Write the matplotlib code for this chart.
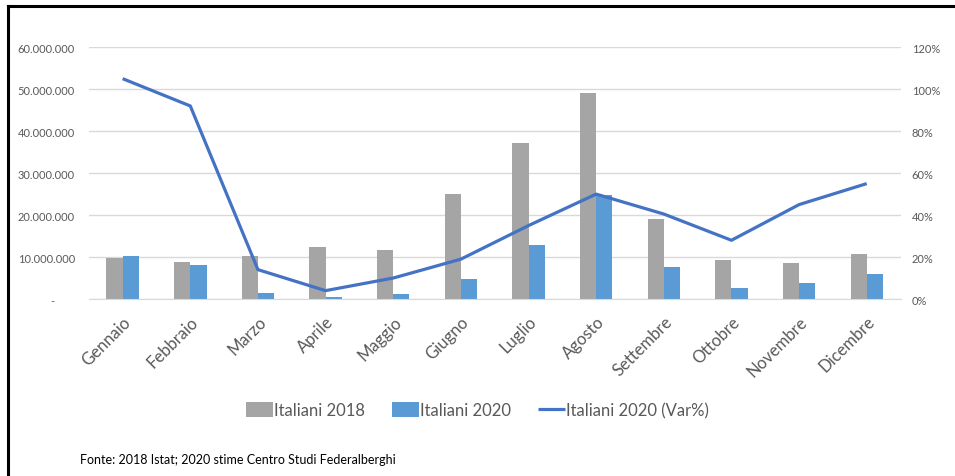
import matplotlib.pyplot as plt
import matplotlib.ticker as mticker
import numpy as np

mesi = ["Gennaio", "Febbraio", "Marzo", "Aprile", "Maggio", "Giugno",
        "Luglio", "Agosto", "Settembre", "Ottobre", "Novembre", "Dicembre"]
italiani_2018 = [9.8e6, 8.8e6, 10.2e6, 12.5e6, 11.7e6, 25.0e6,
                 37.1e6, 49.2e6, 19.0e6, 9.3e6, 8.5e6, 10.7e6]
italiani_2020 = [10.2e6, 8.1e6, 1.4e6, 0.4e6, 1.1e6, 4.8e6,
                 12.9e6, 24.8e6, 7.6e6, 2.6e6, 3.8e6, 6.0e6]
var_2020 = [105, 92, 14, 4, 10, 19, 35, 50, 40.5, 28, 45, 55]

plt.rcParams['font.family'] = ['Lato', 'DejaVu Sans']

GRAY = '#a5a5a5'
BLUE = '#5b9bd5'
LINE = '#4472c4'
TXT = '#595959'

fig = plt.figure(figsize=(9.55, 4.77), dpi=100)
ax = fig.add_axes([0.093, 0.371, 0.850, 0.528])
ax2 = ax.twinx()

x = np.arange(len(mesi))
w = 0.24
ax.bar(x - w / 2, italiani_2018, w, color=GRAY, label='Italiani 2018', zorder=2)
ax.bar(x + w / 2, italiani_2020, w, color=BLUE, label='Italiani 2020', zorder=2)
ax2.plot(x, np.array(var_2020) / 100, color=LINE, lw=2.3,
         label='Italiani 2020 (Var%)', solid_capstyle='butt')

ax.set_xlim(-0.5, len(mesi) - 0.5)
ax.set_ylim(0, 60e6)
ax.set_yticks(np.arange(0, 60e6 + 1, 10e6))
ax2.set_ylim(0, 1.2)
ax2.set_yticks(np.arange(0, 1.21, 0.2))


def fmt_num(v, pos):
    if v == 0:
        return '-       '
    return f"{int(v):,}".replace(',', '.')


ax.yaxis.set_major_formatter(mticker.FuncFormatter(fmt_num))
ax2.yaxis.set_major_formatter(mticker.FuncFormatter(lambda v, p: f"{v * 100:.0f}%"))

ax.grid(axis='y', color='#d9d9d9', lw=1, zorder=0)
ax.set_axisbelow(True)
for a in (ax, ax2):
    for s in a.spines.values():
        s.set_visible(False)
    a.tick_params(length=0, labelsize=8, labelcolor=TXT)
ax.spines['bottom'].set_visible(True)
ax.spines['bottom'].set_color('#d9d9d9')
ax.tick_params(axis='y', pad=10)
ax2.tick_params(axis='y', pad=8)

ax.set_xticks(x)
ax.set_xticklabels(mesi, rotation=45, ha='right', rotation_mode='anchor',
                   fontsize=12, color=TXT)
ax.tick_params(axis='x', pad=10)

h1, l1 = ax.get_legend_handles_labels()
h2, l2 = ax2.get_legend_handles_labels()
fig.legend(h1 + h2, l1 + l2, loc='center', bbox_to_anchor=(0.5, 0.138), ncol=3,
           frameon=False, fontsize=12, handlelength=1.6, handleheight=1.0,
           handletextpad=0.1, columnspacing=1.6, labelcolor=TXT)

fig.text(0.084, 0.023, 'Fonte: 2018 Istat; 2020 stime Centro Studi Federalberghi',
         fontsize=9, color='black', va='bottom')

# cornice nera (solo lati sinistro e superiore visibili)
fig.add_artist(plt.Line2D([0.008, 0.008], [0, 0.985], color='black', lw=2.2,
                          transform=fig.transFigure))
fig.add_artist(plt.Line2D([0.008, 1.0], [0.985, 0.985], color='black', lw=2.2,
                          transform=fig.transFigure))

fig.savefig('out.png', dpi=100)
